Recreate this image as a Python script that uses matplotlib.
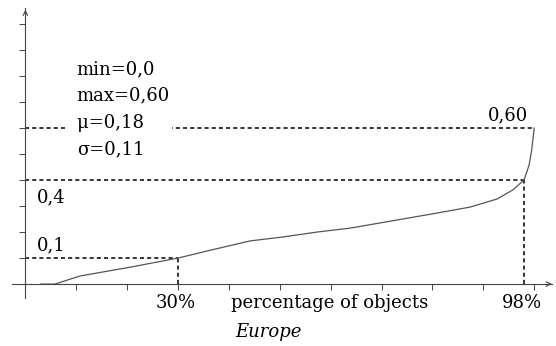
import numpy as np
import matplotlib
matplotlib.use('Agg')
import matplotlib.pyplot as plt

# sorted values over the share of objects (in %)
pct = [3.0, 5.8, 10.7, 20.6, 30.0, 36.3, 44.2, 50.6, 57.3, 63.8, 69.7,
       80.9, 87.4, 92.7, 95.8, 98.0, 99.0, 99.5, 100.0]
vals = [0.0, 0.0, 0.031, 0.065, 0.10, 0.13, 0.166, 0.181, 0.20, 0.215, 0.235,
        0.273, 0.296, 0.327, 0.362, 0.40, 0.458, 0.515, 0.60]

stats = ["min=0,0", "max=0,60", "\u03bc=0,18", "\u03c3=0,11"]
marks = [(30.0, 0.10, "0,1", "30%"), (98.0, 0.40, "0,4", "98%")]
vmax = 0.60

font = dict(family='DejaVu Serif', size=13)

fig = plt.figure(figsize=(5.56, 3.46), dpi=100)
ax = fig.add_axes([0, 0, 1, 1])
ax.set_xlim(-4.99, 104.28)
ax.set_ylim(-0.238, 1.092)
ax.patch.set_alpha(0)

for s in ['top', 'right']:
    ax.spines[s].set_visible(False)
ax.spines['left'].set_position(('data', 0))
ax.spines['bottom'].set_position(('data', 0))
ax.spines['left'].set_bounds(-0.054, 1.06)
ax.spines['bottom'].set_bounds(-2.6, 103.5)
for s in ['left', 'bottom']:
    ax.spines[s].set_color('#444')
    ax.spines[s].set_linewidth(0.8)
ax.set_xticks(np.arange(10, 101, 10))
ax.set_yticks(np.arange(0.1, 1.01, 0.1))
ax.tick_params(direction='out', length=4, width=0.7, color='#444',
               labelbottom=False, labelleft=False)

# arrow heads on the axes
arr = dict(arrowstyle='->', lw=0.8, color='#444', mutation_scale=8)
ax.annotate('', xy=(0, 1.065), xytext=(0, 1.03), arrowprops=arr)
ax.annotate('', xy=(104.0, 0), xytext=(102.5, 0), arrowprops=arr)

ax.plot(pct, vals, color='#555', lw=0.9, zorder=2)

dash = dict(color='black', lw=1.1, linestyle=(0, (2.7, 2.0)), zorder=1)
ax.plot([0, 100], [vmax, vmax], **dash)
for x, y, ylab, xlab in marks:
    ax.plot([0, x], [y, y], **dash)
    ax.plot([x, x], [0, y], **dash)
    ax.text(2.3, y + 0.031 if y < 0.2 else y - 0.085, ylab, va='baseline', **font)
    ax.text(x - 0.4, -0.092, xlab, ha='center', va='baseline', **font)

ax.text(98.8, 0.631, "0,60", ha='right', va='baseline', **font)

ys = [0.805, 0.705, 0.600, 0.497]
for i in [2, 0, 1, 3]:
    kw = {}
    if i == 2:
        kw['bbox'] = dict(fc='white', ec='none', pad=8)
    ax.text(10.1, ys[i], stats[i] + ("   " if i == 2 else ""),
            va='baseline', **font, **kw)

ax.text(40.4, -0.092, "percentage of objects", va='baseline', **font)
ax.text(41.2, -0.204, "Europe", va='baseline', style='italic', **font)

fig.savefig('out.png', dpi=100)
